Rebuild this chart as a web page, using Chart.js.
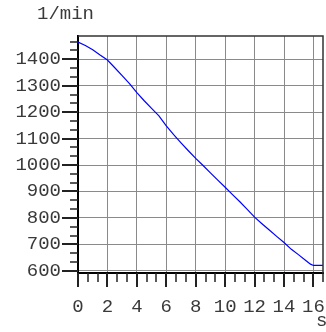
<!DOCTYPE html>
<html><head><meta charset="utf-8">
<script src="https://cdn.jsdelivr.net/npm/chart.js@4/dist/chart.umd.min.js"></script>
<style>html,body{margin:0;padding:0;background:#fff;}#wrap{width:326px;height:332px;}</style>
</head><body><div id="wrap"><canvas id="c" width="326" height="332"></canvas></div>
<script>
const timeS = [0,0.5,1,1.5,2,2.5,3,3.5,4,4.5,5,5.5,6,6.5,7,7.5,8,8.5,9,9.5,10,10.5,11,11.5,12,12.5,13,13.5,14,14.5,15,15.5,15.8,16,16.65];
const speedRpm = [1465,1452,1436,1416,1397,1368,1338,1308,1274,1243,1214,1186,1148,1115,1084,1054,1025,998,970,943,916,888,861,832,803,778,754,730,707,681,660,638,625,620,620];
const xTickLabels = [0,2,4,6,8,10,12,14,16];
const yTickLabels = [600,700,800,900,1000,1100,1200,1300,1400];
const yUnit = '1/min';
const xUnit = 's';
const xRange = [0, 16.65];
const yRange = [591.5, 1488];

const FONT = "'Liberation Mono', monospace";

const extras = {
  id: 'extras',
  afterDraw(chart) {
    const ctx = chart.ctx, a = chart.chartArea;
    const xs = chart.scales.x, ys = chart.scales.y;
    ctx.save();
    ctx.strokeStyle = '#333'; ctx.lineWidth = 1.5;
    ctx.beginPath();
    ctx.moveTo(a.left, a.top); ctx.lineTo(a.right, a.top); ctx.lineTo(a.right, a.bottom);
    ctx.stroke();
    ctx.strokeStyle = '#222';
    for (let i = 0; i * 2 / 3 <= xRange[1] + 0.05; i++) {
      const v = i * 2 / 3;
      const px = Math.round(xs.getPixelForValue(v));
      const major = i % 3 === 0;
      ctx.lineWidth = major ? 2 : 1.5;
      ctx.beginPath();
      ctx.moveTo(px, a.bottom); ctx.lineTo(px, a.bottom + (major ? 14 : 9));
      ctx.stroke();
    }
    for (let k = 0; 600 + k * 100 / 3 <= yRange[1]; k++) {
      const v = 600 + k * 100 / 3;
      const py = Math.round(ys.getPixelForValue(v));
      const major = k % 3 === 0;
      ctx.lineWidth = major ? 2 : 1.5;
      ctx.beginPath();
      ctx.moveTo(a.left, py); ctx.lineTo(a.left - (major ? 16 : 8), py);
      ctx.stroke();
    }
    ctx.fillStyle = '#3a3a3a';
    ctx.font = '19px ' + FONT;
    ctx.textBaseline = 'middle';
    ctx.textAlign = 'left';
    ctx.fillText(yUnit, 37, 14);
    ctx.fillText(xUnit, 316, 321);
    ctx.restore();
  }
};

new Chart(document.getElementById('c'), {
  type: 'line',
  data: {
    datasets: [{
      data: timeS.map((t, i) => ({x: t, y: speedRpm[i]})),
      borderColor: '#0000ff',
      borderWidth: 1.2,
      pointRadius: 0,
      tension: 0,
      fill: false
    }]
  },
  options: {
    responsive: false,
    animation: false,
    devicePixelRatio: 1,
    layout: { padding: { top: 36, right: 3, bottom: 0, left: 0 } },
    plugins: { legend: { display: false }, tooltip: { enabled: false }, title: { display: false } },
    scales: {
      x: {
        type: 'linear', min: xRange[0], max: xRange[1],
        afterBuildTicks(s) { s.ticks = xTickLabels.map(v => ({ value: v })); },
        afterFit(s) { s.height = 59; s.paddingLeft = 0; s.paddingRight = 0; },
        border: { display: true, color: '#000', width: 2 },
        grid: { color: '#8a8a8a', borderDash: [1, 1], drawTicks: false, lineWidth: 1 },
        ticks: { autoSkip: false, maxRotation: 0, padding: 23,
                 callback: v => String(v),
                 color: '#3a3a3a', font: { family: FONT, size: 19 } }
      },
      y: {
        type: 'linear', min: yRange[0], max: yRange[1],
        afterBuildTicks(s) { s.ticks = yTickLabels.map(v => ({ value: v })); },
        afterFit(s) { s.width = 78; s.paddingTop = 0; s.paddingBottom = 0; },
        border: { display: true, color: '#000', width: 2 },
        grid: { color: '#8a8a8a', borderDash: [1, 1], drawTicks: false, lineWidth: 1 },
        ticks: { autoSkip: false, padding: 17,
                 callback: v => String(v),
                 color: '#3a3a3a', font: { family: FONT, size: 19 } }
      }
    }
  },
  plugins: [extras]
});
</script></body></html>
